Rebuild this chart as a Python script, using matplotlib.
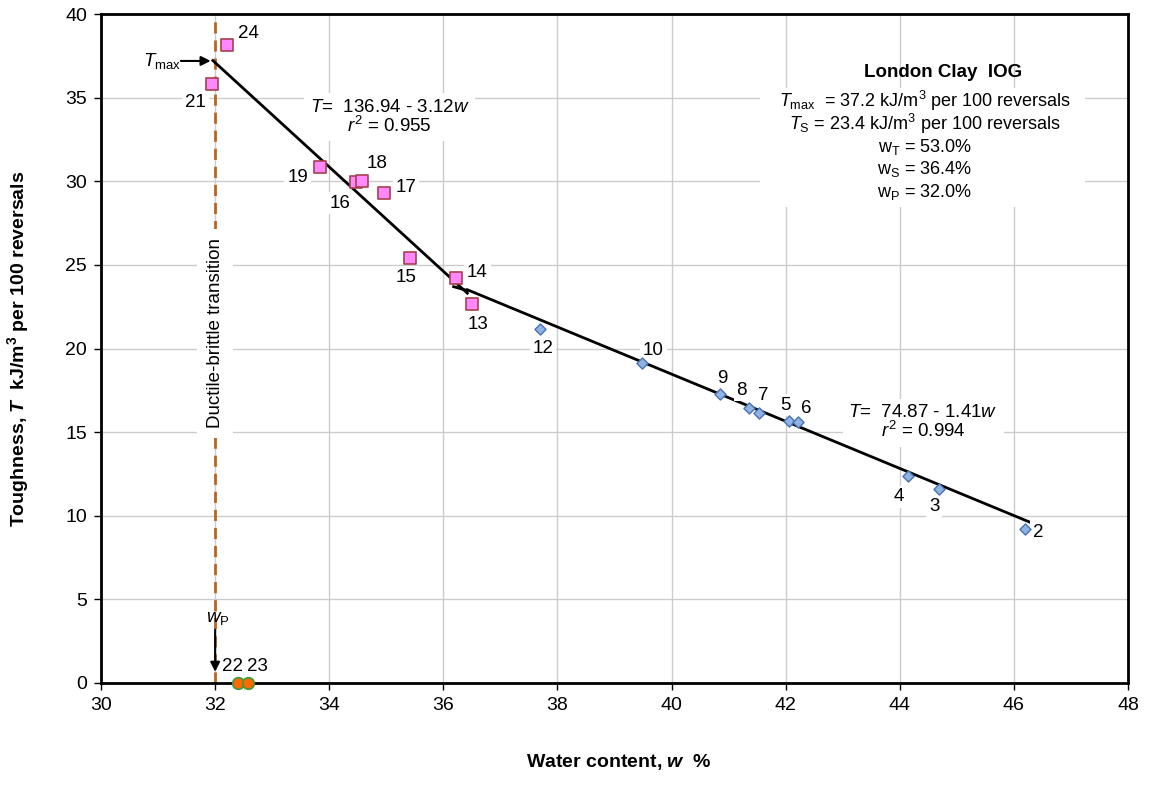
import matplotlib
matplotlib.use("Agg")
import matplotlib.pyplot as plt
import numpy as np
from matplotlib.patches import Rectangle

plt.rcParams['font.family'] = ['Liberation Sans', 'DejaVu Sans']
plt.rcParams['mathtext.fontset'] = 'custom'
plt.rcParams['mathtext.rm'] = 'Liberation Sans'
plt.rcParams['mathtext.it'] = 'Liberation Sans:italic'
plt.rcParams['mathtext.bf'] = 'Liberation Sans:bold'
plt.rcParams['mathtext.bfit'] = 'Liberation Sans:bold:italic'

# ---------------- data ----------------
# ductile (pink squares)
duct_ids = ['24', '21', '19', '16', '18', '17', '15', '14', '13']
duct_w = [32.21, 31.94, 33.83, 34.47, 34.57, 34.96, 35.41, 36.23, 36.50]
duct_T = [38.15, 35.81, 30.85, 29.96, 30.00, 29.30, 25.41, 24.20, 22.66]

# brittle (blue diamonds)
brit_ids = ['12', '10', '9', '8', '7', '5', '6', '4', '3', '2']
brit_w = [37.69, 39.49, 40.84, 41.35, 41.54, 42.05, 42.22, 44.15, 44.69, 46.20]
brit_T = [21.17, 19.13, 17.28, 16.44, 16.14, 15.66, 15.60, 12.38, 11.60, 9.20]

# zero toughness (orange circles)
zero_ids = ['22', '23']
zero_w = [32.40, 32.57]
zero_T = [0.0, 0.0]

# trend lines
fit1 = (136.94, -3.12)
fit1_range = [31.96, 36.42]
fit2 = (74.87, -1.41)
fit2_range = [36.42, 46.35]

w_P = 32.0
T_max = 37.2
T_S = 23.4

x_ticks = [30, 32, 34, 36, 38, 40, 42, 44, 46, 48]
y_ticks = [0, 5, 10, 15, 20, 25, 30, 35, 40]

# label offsets (pixels)
label_off = {
    '24': (21, 12), '21': (-16, -18), '19': (-22, -10), '16': (-16, -21),
    '18': (15, 18), '17': (22, 6), '15': (-4, -19), '14': (21, 6), '13': (6, -20),
    '12': (3, -20), '10': (11, 13), '9': (3, 16), '8': (-7, 18), '7': (4, 18),
    '5': (-3, 16), '6': (8, 14), '4': (-10, -21), '3': (-5, -18), '2': (13, -3),
    '22': (-5, 16), '23': (10, 16),
}

# ---------------- figure ----------------
fig = plt.figure(figsize=(11.52, 7.85), dpi=100)
ax = fig.add_axes([0.0877, 0.130, 0.8915, 0.852])
ax.set_xlim(30, 48)
ax.set_ylim(0, 40)
ax.set_xticks(x_ticks)
ax.set_yticks(y_ticks)
ax.grid(True, color='#cccccc', linewidth=1.0, zorder=0)
ax.set_axisbelow(True)
for s in ax.spines.values():
    s.set_linewidth(2.0)
    s.set_color('black')
    s.set_zorder(6)
ax.tick_params(axis='both', direction='out', length=5, width=1, labelsize=14, pad=5)

fs = 13.5
bbox_w = dict(boxstyle='square,pad=0.15', fc='white', ec='none')

# vertical transition line
ax.plot([w_P, w_P], [0, 40], color='#b8651e', linewidth=2, linestyle=(0, (4, 2.5)), zorder=2)
ax.text(w_P, 20.9, 'Ductile-brittle transition', rotation=90, ha='center', va='center',
        fontsize=fs, bbox=dict(boxstyle='square,pad=0.5', fc='white', ec='none'), zorder=3)

# trend lines
x1 = np.array(fit1_range)
ax.plot(x1, fit1[0] + fit1[1] * x1, color='black', linewidth=2, zorder=4)
x2 = np.array(fit2_range)
ax.plot(x2, fit2[0] + fit2[1] * x2, color='black', linewidth=2, zorder=4)
# small pointer at intersection
ax.plot([36.18, fit1_range[1]], [T_S + 0.3, fit2[0] + fit2[1] * fit1_range[1] - 0.05],
        color='black', linewidth=2, zorder=4)

# markers
ax.scatter(duct_w, duct_T, marker='s', s=70, facecolor='#ff88ff', edgecolor='#a8404f',
           linewidth=1.2, zorder=5)
ax.scatter(brit_w, brit_T, marker='D', s=32, facecolor='#8fb3e3', edgecolor='#4a72b0',
           linewidth=1.0, zorder=5)
ax.scatter(zero_w, zero_T, marker='o', s=70, facecolor='#ff6a00', edgecolor='#3a9a3a',
           linewidth=1.2, zorder=7, clip_on=False)

for ids, ws, Ts in [(duct_ids, duct_w, duct_T), (brit_ids, brit_w, brit_T), (zero_ids, zero_w, zero_T)]:
    for i, w, t in zip(ids, ws, Ts):
        dx, dy = label_off[i]
        ax.annotate(i, (w, t), xytext=(dx, dy), textcoords='offset pixels',
                    ha='center', va='center', fontsize=fs, bbox=bbox_w, zorder=4)

# equations
ax.text(35.06, 33.84, '$T$=  136.94 - 3.12$w$\n$r^2$ = 0.955', ha='center', va='center',
        fontsize=fs, linespacing=1.0, bbox=dict(boxstyle='square,pad=0.3', fc='white', ec='none'), zorder=3)
ax.text(44.41, 15.55, '$T$=  74.87 - 1.41$w$\n$r^2$ = 0.994', ha='center', va='center',
        fontsize=fs, linespacing=1.0, bbox=dict(boxstyle='square,pad=0.3', fc='white', ec='none'), zorder=3)

# Tmax annotation
ax.annotate('', xy=(31.97, T_max), xytext=(31.35, T_max),
            arrowprops=dict(arrowstyle='-|>', color='black', lw=1.5, mutation_scale=14), zorder=5)
ax.text(31.07, T_max, r'$T_{\rm max}$', ha='center', va='center', fontsize=fs, zorder=5)

# wP annotation
ax.annotate('', xy=(w_P, 0.5), xytext=(w_P, 3.35),
            arrowprops=dict(arrowstyle='-|>', color='black', lw=1.5, mutation_scale=14), zorder=5)
ax.text(w_P + 0.05, 3.85, r'$w_{\rm P}$', ha='center', va='center', fontsize=fs, zorder=5)

# info block
ax.add_patch(Rectangle((0.642, 0.712), 0.316, 0.178, transform=ax.transAxes,
                       fc='white', ec='none', zorder=1))
ax.text(0.820, 0.913, 'London Clay  IOG', transform=ax.transAxes, ha='center', va='center',
        fontsize=fs, fontweight='bold', zorder=3)
info_lines = [
    (0.870, r'$T_{\rm max}$  = 37.2 kJ/m$^3$ per 100 reversals'),
    (0.836, r'$T_{\rm S}$ = 23.4 kJ/m$^3$ per 100 reversals'),
    (0.801, r'w$_{\rm T}$ = 53.0%'),
    (0.768, r'w$_{\rm S}$ = 36.4%'),
    (0.734, r'w$_{\rm P}$ = 32.0%'),
]
for yy, tx in info_lines:
    ax.text(0.802, yy, tx, transform=ax.transAxes, ha='center', va='center', fontsize=13, zorder=3)

# axis labels
fig.text(0.537, 0.016, r'Water content, $\boldsymbol{w}$  %', ha='center', va='bottom',
         fontsize=14, fontweight='bold')
fig.text(0.016, 0.556, r'Toughness, $\boldsymbol{T}$  kJ/m$^\mathbf{3}$ per 100 reversals', rotation=90,
         ha='center', va='center', fontsize=14, fontweight='bold')

fig.savefig('out.png', dpi=100)
